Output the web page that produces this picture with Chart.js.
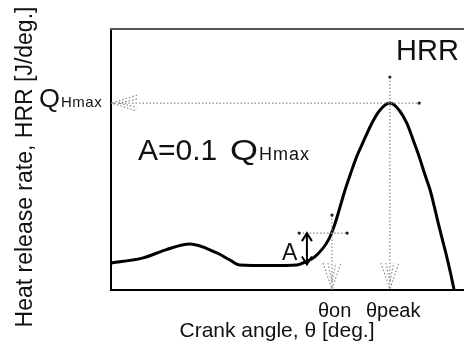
<!DOCTYPE html>
<html><head><meta charset="utf-8">
<script src="https://cdn.jsdelivr.net/npm/chart.js@4"></script>
<style>html,body{margin:0;padding:0;background:#fff}canvas{display:block}</style>
</head><body>
<canvas id="c" width="464" height="350"></canvas>
<script>
// Data (schematic units: crank angle 0..100, HRR 0..100)
const crankAngle = [0, 9.1, 15.3, 22.4, 30.0, 33.7, 36.5, 45.0, 52.7, 55.0, 57.8, 61.6, 63.5, 64.9, 66.3, 67.9, 69.6, 71.7, 73.9, 76.0, 79.0, 81.8, 83.8, 85.6, 87.3, 88.8, 90.4, 91.6, 92.7, 93.9, 95.1, 96.2, 97.2];
const hrr        = [10.3, 12.3, 15.3, 17.6, 14.2, 11.5, 9.6, 9.4, 9.6, 10.7, 12.8, 19.2, 25.6, 31.9, 38.3, 44.7, 51.1, 57.5, 63.9, 68.6, 71.6, 68.6, 63.9, 57.5, 51.1, 44.7, 38.3, 31.9, 25.6, 19.2, 12.8, 6.4, 0];
const qHmax = 71.6;        // peak HRR
const thetaPeak = 79.0;    // crank angle at peak
const thetaOn = 62.6;      // onset crank angle
const hrrOn = 21.8;        // HRR at onset
const aTheta = 55.5;       // position of the "A" arrow
const aBase = 9.8;         // base HRR level under the A arrow
const qLineEnd = 87.3;     // right end of the QHmax guide
const peakGuideTop = 81.6; // top of the theta_peak guide
const onGuideTop = 28.7;   // top of the theta_on guide
const onGuideLeft = 53.3, onGuideRight = 66.9;
const xRange = [0, 100], yRange = [0, 100];

const FONT = '"Liberation Sans", Arial, Helvetica, sans-serif';

function qWithSub(ctx, x, y, qSize, qStretch, subSize, subSpacing) {
  ctx.save();
  ctx.font = qSize + 'px ' + FONT;
  const qw = ctx.measureText('Q').width * qStretch;
  ctx.translate(x, y); ctx.scale(qStretch, 1); ctx.fillText('Q', 0, 0);
  ctx.restore();
  ctx.save();
  ctx.font = subSize + 'px ' + FONT;
  ctx.letterSpacing = subSpacing + 'px';
  ctx.fillText('Hmax', x + qw + 1, y);
  ctx.restore();
}

const annot = {
  id: 'annot',
  afterDatasetsDraw(chart) {
    const ctx = chart.ctx, xs = chart.scales.x, ys = chart.scales.y, ca = chart.chartArea;
    const X = v => xs.getPixelForValue(v), Y = v => ys.getPixelForValue(v);
    ctx.save();
    // top frame line
    ctx.strokeStyle = '#555'; ctx.lineWidth = 2;
    ctx.beginPath(); ctx.moveTo(ca.left - 1, ca.top); ctx.lineTo(chart.width, ca.top); ctx.stroke();

    // dotted guides
    ctx.strokeStyle = '#8a8a8a'; ctx.lineWidth = 1.2; ctx.setLineDash([1.5, 2]);
    const line = (pts) => { ctx.beginPath(); ctx.moveTo(pts[0][0], pts[0][1]); for (let i = 1; i < pts.length; i++) ctx.lineTo(pts[i][0], pts[i][1]); ctx.stroke(); };
    const yQ = Y(qHmax), xP = X(thetaPeak), xO = X(thetaOn), yO = Y(hrrOn), y0 = Y(0);
    line([[X(0), yQ], [X(qLineEnd), yQ]]);
    line([[xP, Y(peakGuideTop)], [xP, y0]]);
    line([[xO, Y(onGuideTop)], [xO, y0]]);
    line([[X(onGuideLeft), yO], [X(onGuideRight), yO]]);
    // open dotted arrowheads
    const L = X(0) + 1;
    line([[L + 25, yQ - 8], [L, yQ], [L + 25, yQ + 8]]);
    line([[L + 25, yQ - 4], [L + 6, yQ], [L + 25, yQ + 4]]);
    for (const xx of [xO, xP]) {
      line([[xx - 9, y0 - 27], [xx, y0 - 1], [xx + 9, y0 - 27]]);
      line([[xx - 4, y0 - 27], [xx, y0 - 8], [xx + 4, y0 - 27]]);
    }
    ctx.setLineDash([]);
    // end dots
    ctx.fillStyle = '#222';
    for (const p of [[X(qLineEnd), yQ], [xP, Y(peakGuideTop)], [xO, Y(onGuideTop)], [X(onGuideLeft), yO], [X(onGuideRight), yO]]) {
      ctx.beginPath(); ctx.arc(p[0], p[1], 1.6, 0, Math.PI * 2); ctx.fill();
    }
    // A double arrow (solid)
    const xa = X(aTheta), ya1 = Y(hrrOn), ya2 = Y(aBase);
    ctx.strokeStyle = '#000'; ctx.lineWidth = 2;
    line([[xa, ya1], [xa, ya2]]);
    line([[xa - 5, ya1 + 8], [xa, ya1], [xa + 5, ya1 + 8]]);
    line([[xa - 5, ya2 - 8], [xa, ya2], [xa + 5, ya2 - 8]]);

    // texts
    ctx.fillStyle = '#111'; ctx.textBaseline = 'alphabetic'; ctx.textAlign = 'left';
    ctx.font = '29px ' + FONT; ctx.fillText('HRR', 396, 60);
    qWithSub(ctx, 39, 107, 25, 1.08, 15, 0.5);
    ctx.font = '30px ' + FONT; ctx.fillText('A=0.1', 138, 160);
    qWithSub(ctx, 230, 160, 30, 1.2, 18, 1);
    ctx.font = '23px ' + FONT; ctx.fillText('A', 282, 260);
    ctx.font = '20px ' + FONT; ctx.fillText('\u03B8on', 318, 317); ctx.fillText('\u03B8peak', 366, 317);
    ctx.font = '21px ' + FONT; ctx.textAlign = 'center';
    ctx.fillText('Crank angle, \u03B8 [deg.]', 277, 337);
    ctx.save(); ctx.translate(32, 167); ctx.rotate(-Math.PI / 2);
    ctx.font = '23px ' + FONT; ctx.fillText('Heat release rate, HRR [J/deg.]', 0, 0);
    ctx.restore();
    ctx.restore();
  }
};

new Chart(document.getElementById('c'), {
  type: 'line',
  data: {
    datasets: [{
      data: crankAngle.map((a, i) => ({ x: a, y: hrr[i] })),
      borderColor: '#000', borderWidth: 3, pointRadius: 0, fill: false,
      cubicInterpolationMode: 'monotone'
    }]
  },
  options: {
    responsive: false, animation: false, devicePixelRatio: 1,
    layout: { padding: { left: 111, top: 29, right: 0, bottom: 60 } },
    plugins: { legend: { display: false }, tooltip: { enabled: false } },
    scales: {
      x: { type: 'linear', min: xRange[0], max: xRange[1],
           ticks: { display: false }, grid: { display: false, drawTicks: false },
           border: { display: true, color: '#000', width: 2 } },
      y: { type: 'linear', min: yRange[0], max: yRange[1],
           ticks: { display: false }, grid: { display: false, drawTicks: false },
           border: { display: true, color: '#000', width: 2 } }
    }
  },
  plugins: [annot]
});
</script>
</body></html>
